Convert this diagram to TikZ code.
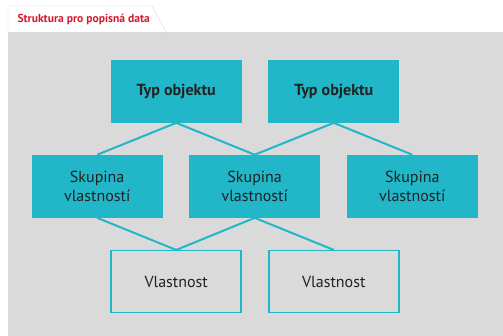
\documentclass[tikz,border=0pt]{standalone}
\usepackage{fontspec}
\setmainfont{PT Sans}
\usepackage{tikz}
\usetikzlibrary{positioning}
\definecolor{boxcyan}{HTML}{21B6C8}
\definecolor{panelgray}{HTML}{DADADA}
\definecolor{titlered}{HTML}{D4192C}
\definecolor{textdark}{HTML}{222222}

\begin{document}
\begin{tikzpicture}[
    x=1pt, y=-1pt,
    every node/.style={font=\fontsize{16}{19}\selectfont, text=textdark, align=center},
    typbox/.style={fill=boxcyan, minimum width=131pt, minimum height=62.7pt, font=\fontsize{16}{19}\selectfont\bfseries},
    groupbox/.style={fill=boxcyan, minimum width=131pt, minimum height=62.7pt},
    propbox/.style={draw=boxcyan, line width=1.5pt, fill=panelgray, minimum width=130pt, minimum height=62pt},
    link/.style={draw=boxcyan, line width=2pt}
]
    \useasboundingbox (0,0) rectangle (503,336);
    % Background
    \fill[panelgray] (8,32) rectangle (503,336);
    \draw[draw=black!15, fill=white] (8,32) -- (8,6) -- (152,6) -- (166,32);
    \node[anchor=west, text=titlered, font=\fontsize{11.6}{14}\selectfont\bfseries] (title) at (14,19) {Struktura pro popisná data};

    % Define nodes
    \node[typbox] (T1) at (176.2,91.3) {Typ objektu};
    \node[typbox] (T2) at (333.8,91.3) {Typ objektu};
    \node[groupbox] (S1) at (97.2,186.3) {Skupina\\vlastností};
    \node[groupbox] (S2) at (254.7,186.3) {Skupina\\vlastností};
    \node[groupbox] (S3) at (412.3,186.3) {Skupina\\vlastností};
    \node[propbox] (V1) at (176.2,281.7) {Vlastnost};
    \node[propbox] (V2) at (333.8,281.7) {Vlastnost};

    % Draw links
    \draw[link] (T1.south) -- (S1.north);
    \draw[link] (T1.south) -- (S2.north);
    \draw[link] (T2.south) -- (S2.north);
    \draw[link] (T2.south) -- (S3.north);
    \draw[link] (S1.south) -- (V1.north);
    \draw[link] (S2.south) -- (V1.north);
    \draw[link] (S2.south) -- (V2.north);
\end{tikzpicture}
\end{document}
